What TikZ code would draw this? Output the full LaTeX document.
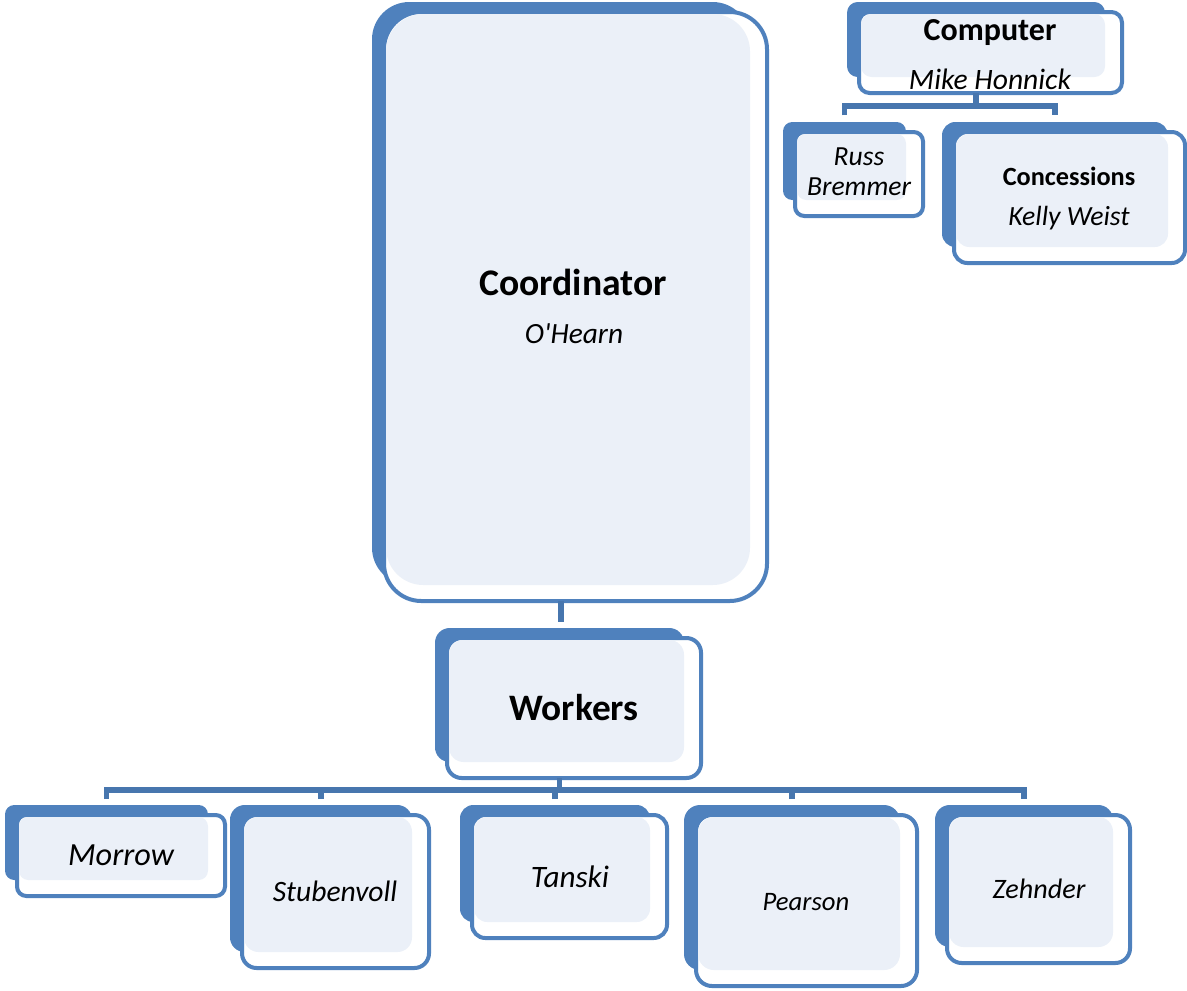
\documentclass[tikz,border=0pt]{standalone}
\usepackage{fontspec}
\setmainfont{Carlito}
\definecolor{orgblue}{HTML}{4F81BD}
\definecolor{orglink}{HTML}{4776AE}
\definecolor{orglight}{HTML}{EBF0F8}
\begin{document}
\begin{tikzpicture}[x=0.75pt,y=-0.75pt]
            \tikzset{
                backbox/.style={fill=orgblue},
                frontbox/.style={draw=orgblue,line width=3pt,fill=white},
                lightbox/.style={fill=orglight},
                link/.style={draw=orglink,line width=4pt},
                post/.style={anchor=base,font=\bfseries\fontsize{#1}{#1}\selectfont},
                person/.style={anchor=base,font=\itshape\fontsize{#1}{#1}\selectfont},}
            % name, x1, y1, x2, y2, corner
            \def\orgbox#1#2#3#4#5#6{%
                \coordinate (#1-n) at ({(#2+#4)/2},#3);
                \coordinate (#1-s) at ({(#2+#4)/2},#5+16);
                \fill[backbox,rounded corners=#6] (#2,#3) rectangle (#4,#5);
                \draw[frontbox,rounded corners=#6] (#2+12,#3+10) rectangle (#4+17,#5+16);
                \fill[lightbox,rounded corners=#6] (#2+14,#3+12) rectangle (#4,#5);}
            \useasboundingbox (0,0) rectangle (1187,990);
            \orgbox{coord}{372}{2}{750}{585}{28pt}
            \orgbox{comp}{847}{2}{1105}{77}{8pt}
            \orgbox{russ}{783}{122}{906}{200}{7pt}
            \orgbox{conc}{942}{122}{1168}{247}{10pt}
            \orgbox{work}{435}{628}{684}{762}{11pt}
            \orgbox{morrow}{5}{805}{208}{880}{7pt}
            \orgbox{stub}{230}{805}{412}{952}{11pt}
            \orgbox{tanski}{460}{805}{650}{922}{10pt}
            \orgbox{pear}{684}{805}{900}{970}{12pt}
            \orgbox{zehn}{935}{805}{1113}{947}{11pt}
            \coordinate (ctier) at (0,106);
            \coordinate (wtier) at (0,790);
            % links
            \draw[link,shorten >=4.5pt] (coord-s) -- (coord-s |- work-n);
            \draw[link] (comp-s) -- (comp-s |- ctier);
            \draw[link] ([yshift=5pt]russ-n) |- (comp-s |- ctier) -| ([yshift=5pt]conc-n);
            \draw[link] (work-s) -- (work-s |- wtier);
            \draw[link] ([yshift=4.5pt]morrow-n) |- (work-s |- wtier) -| ([yshift=4.5pt]zehn-n);
            \foreach \b in {stub,tanski,pear}
                \draw[link] ([yshift=4.5pt]\b-n) -- (\b-n |- wtier);
            % texts
            \node[post=28.2] (coordT) at (573,295) {Coordinator};
            \node[person=22] (coordP) at (574,343) {O\textquotesingle Hearn};
            \node[post=24] (compT) at (990,40) {Computer};
            \node[person=22.2] (compP) at (990,89) {Mike Honnick};
            \node[person=20.7] (russA) at (859,165) {Russ};
            \node[person=20.7] (russB) at (859,195) {Bremmer};
            \node[post=19.7] (concT) at (1069,185) {Concessions};
            \node[person=20.8] (concP) at (1069,225) {Kelly Weist};
            \node[post=28] (workT) at (574,720) {Workers};
            \node[person=24.2] (morrowP) at (121,865) {Morrow};
            \node[person=22.2] (stubP) at (335,901) {Stubenvoll};
            \node[person=23.4] (tanskiP) at (570,887) {Tanski};
            \node[person=20] (pearP) at (806,910) {Pearson};
            \node[person=21.1] (zehnP) at (1039,898) {Zehnder};
        \end{tikzpicture}
\end{document}
